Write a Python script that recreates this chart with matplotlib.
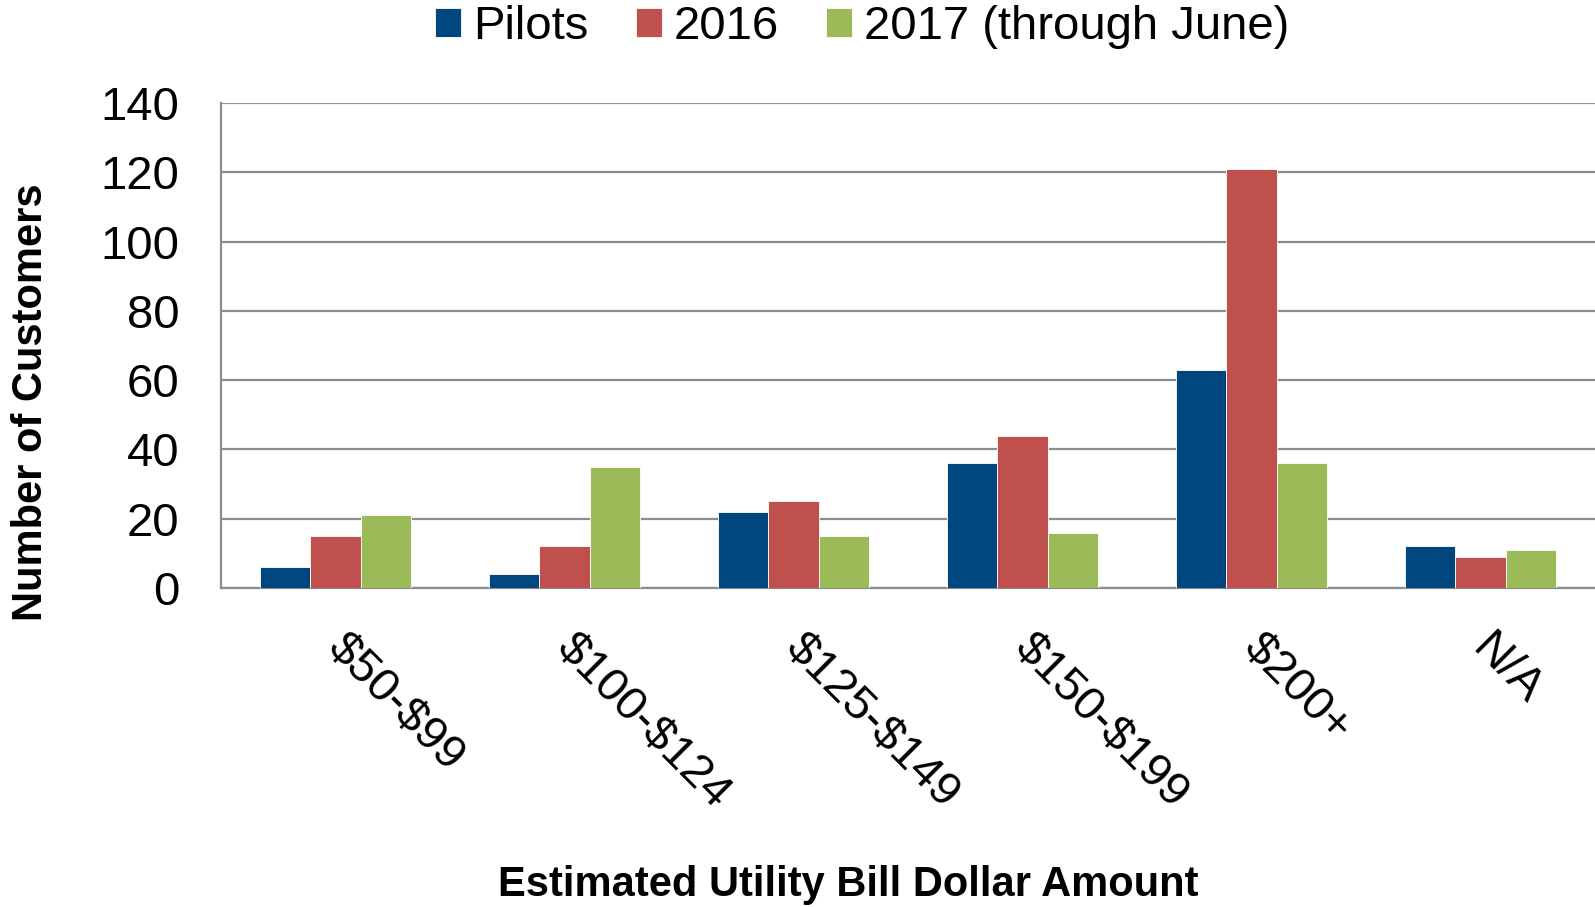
import numpy as np
import matplotlib.pyplot as plt
import matplotlib.transforms as mtransforms

categories = ["$50-$99", "$100-$124", "$125-$149", "$150-$199", "$200+", "N/A"]
pilots = [6, 4, 22, 36, 63, 12]
y2016 = [15, 12, 25, 44, 121, 9]
y2017 = [21, 35, 15, 16, 36, 11]
series_names = ["Pilots", "2016", "2017 (through June)"]
yticks = [0, 20, 40, 60, 80, 100, 120, 140]

colors = ["#00477F", "#C0504D", "#9BBB59"]

plt.rcParams['font.family'] = ['Liberation Sans', 'DejaVu Sans']
plt.rcParams['text.parse_math'] = False

fig = plt.figure(figsize=(15.95, 9.07), dpi=100)
ax = fig.add_axes([221 / 1595, 1 - 588 / 907, 1 - 221 / 1595, (588 - 103) / 907])

x = np.arange(len(categories))
w = 0.22
for i, (vals, name) in enumerate(zip([pilots, y2016, y2017], series_names)):
    ax.bar(x + (i - 1) * w, vals, width=w, color=colors[i], label=name,
           edgecolor="white", linewidth=0.6, zorder=3)

ax.set_xlim(-0.5, 5.5)
ax.set_ylim(0, 140)
ax.set_yticks(yticks)
ax.tick_params(axis='y', length=0, labelsize=34, pad=30)
ax.tick_params(axis='x', length=0, labelsize=34, pad=27)
ax.set_xticks(x)
ax.set_xticklabels(categories, rotation=-45, ha='left', va='top',
                   rotation_mode='anchor')
# nudge the slanted labels a little to the right, like the original
shift = mtransforms.ScaledTranslation(14 / 100, 0, fig.dpi_scale_trans)
for lbl in ax.get_xticklabels():
    lbl.set_transform(lbl.get_transform() + shift)

ax.grid(axis='y', color='#8c8c8c', linewidth=1.6, zorder=0)
for s in ['top', 'right']:
    ax.spines[s].set_visible(False)
for s in ['left', 'bottom']:
    ax.spines[s].set_color('#8c8c8c')
    ax.spines[s].set_linewidth(1.6)

fig.text(31 / 1595, 1 - 402 / 907, "Number of Customers", rotation=90,
         ha='center', va='center', fontsize=30, fontweight='bold')
fig.text(848 / 1595, 1 - 885 / 907, "Estimated Utility Bill Dollar Amount",
         ha='center', va='center', fontsize=30, fontweight='bold')

fig.legend(loc='center', bbox_to_anchor=(862 / 1595, 1 - 27 / 907), ncol=3,
           frameon=False, fontsize=34, handlelength=0.55, handleheight=0.55,
           handletextpad=0.25, columnspacing=1.0, borderaxespad=0)

fig.savefig("out.png", dpi=100)
